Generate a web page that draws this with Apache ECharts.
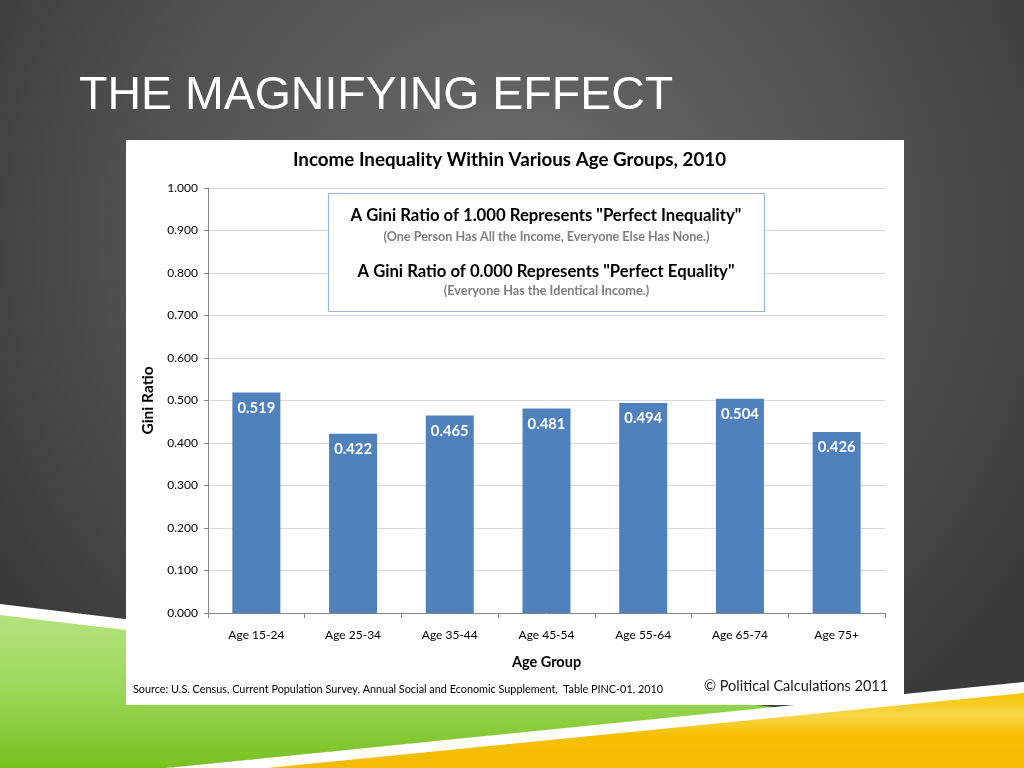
<!DOCTYPE html>
<html>
<head>
<meta charset="utf-8">
<script src="https://cdn.jsdelivr.net/npm/echarts@6/dist/echarts.min.js"></script>
<style>
html,body{margin:0;padding:0;background:#444;}
#c{width:1024px;height:768px;}
</style>
</head>
<body>
<div id="c"></div>
<script>
const slideTitle = 'THE MAGNIFYING EFFECT';
const chartTitle = 'Income Inequality Within Various Age Groups, 2010';
const categories = ['Age 15-24','Age 25-34','Age 35-44','Age 45-54','Age 55-64','Age 65-74','Age 75+'];
const giniValues = [0.519, 0.422, 0.465, 0.481, 0.494, 0.504, 0.426];
const boxLines = [
  'A Gini Ratio of 1.000 Represents "Perfect Inequality"',
  '(One Person Has All the Income, Everyone Else Has None.)',
  'A Gini Ratio of 0.000 Represents "Perfect Equality"',
  '(Everyone Has the Identical Income.)'
];
const sourceText = 'Source: U.S. Census, Current Population Survey, Annual Social and Economic Supplement,  Table PINC-01, 2010';
const copyrightText = '\u00A9 Political Calculations 2011';

const F = 'Lato, "Open Sans", sans-serif';
const chart = echarts.init(document.getElementById('c'));

const decor = [
  {type:'polygon', z:-10, shape:{points:[[0,604],[800,700],[166,768],[0,768]]}, style:{fill:'#ffffff'}},
  {type:'polygon', z:-9, shape:{points:[[0,615],[777,707.5],[166,768],[0,768]]},
   style:{fill:new echarts.graphic.LinearGradient(0,0,0,1,[{offset:0,color:'#b4e37e'},{offset:0.45,color:'#9dd95c'},{offset:1,color:'#77c21e'}])}},
  {type:'polygon', z:-8, shape:{points:[[166,768],[1024,682],[1024,768],[166,768]]}, style:{fill:'#ffffff'}},
  {type:'polygon', z:-7, shape:{points:[[267,768],[1024,693],[1024,768]]},
   style:{fill:new echarts.graphic.LinearGradient(0,0,0,1,[{offset:0,color:'#f7c400'},{offset:0.3,color:'#fbd64a'},{offset:0.55,color:'#f6c000'},{offset:1,color:'#f4bb00'}])}},
  {type:'text', z:-6, style:{text:slideTitle, x:79, y:96, fill:'#ffffff', font:'46.5px "Liberation Sans", Arial, sans-serif', verticalAlign:'middle', textAlign:'left'}},
  {type:'rect', z:-5, shape:{x:126,y:140,width:778,height:565}, style:{fill:'#ffffff'}},
  {type:'text', z:5, style:{text:chartTitle, x:509.5, y:160, fill:'#000000', font:'bold 18.8px '+F, textAlign:'center', verticalAlign:'middle'}},
  {type:'rect', z:5, shape:{x:328.5,y:193.5,width:436,height:118}, style:{fill:'#ffffff', stroke:'#9db7d8', lineWidth:1.2}},
  {type:'text', z:6, style:{text:boxLines[0], x:546, y:216, fill:'#000', font:'bold 16.7px '+F, textAlign:'center', verticalAlign:'middle'}},
  {type:'text', z:6, style:{text:boxLines[1], x:546.5, y:237, fill:'#7f7f7f', font:'bold 12.6px '+F, textAlign:'center', verticalAlign:'middle'}},
  {type:'text', z:6, style:{text:boxLines[2], x:546, y:272, fill:'#000', font:'bold 16.7px '+F, textAlign:'center', verticalAlign:'middle'}},
  {type:'text', z:6, style:{text:boxLines[3], x:546.5, y:291, fill:'#7f7f7f', font:'bold 12.7px '+F, textAlign:'center', verticalAlign:'middle'}},
  {type:'text', z:6, style:{text:sourceText, x:133, y:689, fill:'#000', font:'10.85px '+F, textAlign:'left', verticalAlign:'middle'}},
  {type:'text', z:6, style:{text:copyrightText, x:704, y:686, fill:'#1a1a1a', font:'14.5px '+F, textAlign:'left', verticalAlign:'middle'}}
];

chart.setOption({
  animation:false,
  backgroundColor:new echarts.graphic.RadialGradient(0.5,0.3,0.8,[{offset:0,color:'#6c6c6c'},{offset:0.6,color:'#515151'},{offset:1,color:'#3a3a3a'}]),
  graphic:decor,
  grid:{left:208, top:188, width:677, height:425, containLabel:false},
  xAxis:{
    type:'category', data:categories,
    name:'Age Group', nameLocation:'middle', nameGap:42,
    nameTextStyle:{fontFamily:F, fontWeight:'bold', fontSize:14.5, color:'#000'},
    axisLine:{lineStyle:{color:'#868686', width:1}},
    axisTick:{show:true, length:5, alignWithLabel:false, lineStyle:{color:'#868686'}},
    axisLabel:{fontFamily:F, fontSize:12, color:'#000', margin:16}
  },
  yAxis:{
    type:'value', min:0, max:1, interval:0.1,
    name:'Gini Ratio', nameLocation:'middle', nameGap:51, nameRotate:90,
    nameTextStyle:{fontFamily:F, fontWeight:'bold', fontSize:15.5, color:'#000'},
    axisLine:{show:true, lineStyle:{color:'#868686', width:1}},
    axisTick:{show:true, length:4, lineStyle:{color:'#868686'}},
    axisLabel:{fontFamily:F, fontSize:12, color:'#000', margin:10, formatter:v=>v.toFixed(3)},
    splitLine:{show:true, lineStyle:{color:'#d9d9d9', width:1}}
  },
  series:[{
    type:'bar', data:giniValues, barWidth:48,
    itemStyle:{color:'#4f81bd'},
    label:{show:true, position:'insideTop', distance:8, color:'#ffffff', fontFamily:F, fontWeight:'bold', fontSize:14.8, formatter:p=>p.value.toFixed(3)}
  }]
});
</script>
</body>
</html>
